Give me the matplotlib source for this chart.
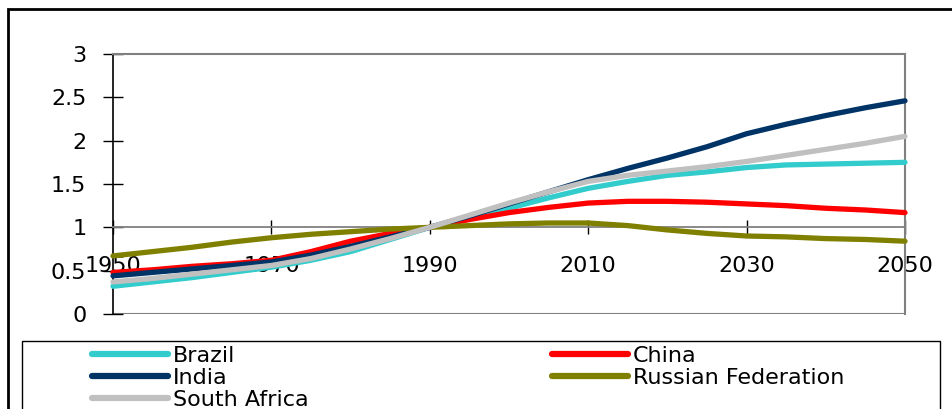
import matplotlib.pyplot as plt
from matplotlib.patches import Rectangle

# index of each series, 1990 = 1
years = [1950, 1955, 1960, 1965, 1970, 1975, 1980, 1985, 1990, 1995, 2000,
         2005, 2010, 2015, 2020, 2025, 2030, 2035, 2040, 2045, 2050]

brazil = [0.32, 0.37, 0.42, 0.48, 0.54, 0.62, 0.72, 0.86, 1.00, 1.11, 1.22,
          1.34, 1.45, 1.53, 1.60, 1.64, 1.69, 1.72, 1.73, 1.74, 1.75]
china = [0.48, 0.51, 0.55, 0.58, 0.62, 0.72, 0.84, 0.93, 1.00, 1.09, 1.17,
         1.23, 1.28, 1.30, 1.30, 1.29, 1.27, 1.25, 1.22, 1.20, 1.17]
india = [0.44, 0.48, 0.52, 0.56, 0.60, 0.68, 0.78, 0.89, 1.00, 1.13, 1.27,
         1.41, 1.55, 1.68, 1.80, 1.93, 2.08, 2.19, 2.29, 2.38, 2.46]
russia = [0.67, 0.72, 0.77, 0.83, 0.88, 0.92, 0.95, 0.98, 1.00, 1.02, 1.04,
          1.05, 1.05, 1.02, 0.97, 0.93, 0.90, 0.89, 0.87, 0.86, 0.84]
south_africa = [0.37, 0.41, 0.46, 0.51, 0.56, 0.64, 0.75, 0.87, 1.00, 1.14, 1.28,
                1.41, 1.53, 1.60, 1.65, 1.70, 1.76, 1.83, 1.90, 1.97, 2.05]

names = ["Brazil", "China", "India", "Russian Federation", "South Africa"]
series = [brazil, china, india, russia, south_africa]
colors = ["#33CCCC", "#FF0000", "#003366", "#808000", "#C0C0C0"]

plt.rcParams['font.family'] = ['DejaVu Sans']

W, H = 952, 409
fig = plt.figure(figsize=(W / 100, H / 100), dpi=100)

# outer chart border and legend box
fig.add_artist(Rectangle((8 / W, -0.1), 1.1, 1 - 9 / H + 0.1, transform=fig.transFigure,
                         fill=False, edgecolor='black', linewidth=2))
fig.add_artist(Rectangle((22 / W, -0.1), (940 - 22) / W, 1 - 341 / H + 0.1,
                         transform=fig.transFigure, fill=False, edgecolor='black',
                         linewidth=1))

ax = fig.add_axes([113 / W, 1 - 314 / H, (905 - 113) / W, (314 - 54) / H])

handles = {}
for name, vals, c in zip(names, series, colors):
    ln, = ax.plot(years, vals, color=c, linewidth=3.8, solid_capstyle='round',
                  solid_joinstyle='round', clip_on=False, zorder=3, label=name)
    handles[name] = ln

ax.set_xlim(1950, 2050)
ax.set_ylim(0, 3)
ax.set_xticks(range(1950, 2051, 20))
ax.set_yticks([0, 0.5, 1, 1.5, 2, 2.5, 3])
ax.set_yticklabels(["0", "0.5", "1", "1.5", "2", "2.5", "3"])

# x axis crosses at 1
ax.spines['bottom'].set_position(('data', 1))
ax.spines['bottom'].set_color('#808080')
ax.spines['bottom'].set_linewidth(1.3)
ax.spines['left'].set_color('black')
ax.spines['left'].set_linewidth(1.2)
for s in ['top', 'right']:
    ax.spines[s].set_color('#808080')
    ax.spines[s].set_linewidth(1.5)
ax.axhline(0, color='#808080', linewidth=1.5, zorder=1)

ax.tick_params(axis='x', direction='inout', length=10, width=1, color='black',
               pad=16, labelsize=16)
ax.tick_params(axis='y', direction='inout', length=14.4, width=1, color='black',
               pad=12, labelsize=16)

# two legend columns, filled row by row
legend_kw = dict(loc='upper left', frameon=False, fontsize=16, handlelength=3.4,
                 handletextpad=0.25, labelspacing=0.08, borderpad=0, borderaxespad=0)
leg1 = fig.legend([handles[n] for n in ["Brazil", "India", "South Africa"]],
                  ["Brazil", "India", "South Africa"],
                  bbox_to_anchor=(92 / W, 1 - 346 / H), **legend_kw)
leg2 = fig.legend([handles[n] for n in ["China", "Russian Federation"]],
                  ["China", "Russian Federation"],
                  bbox_to_anchor=(552 / W, 1 - 346 / H), **legend_kw)
for lg in (leg1, leg2):
    for l in lg.get_lines():
        l.set_linewidth(4.5)
        l.set_solid_capstyle('round')

fig.savefig("out.png", dpi=100)
